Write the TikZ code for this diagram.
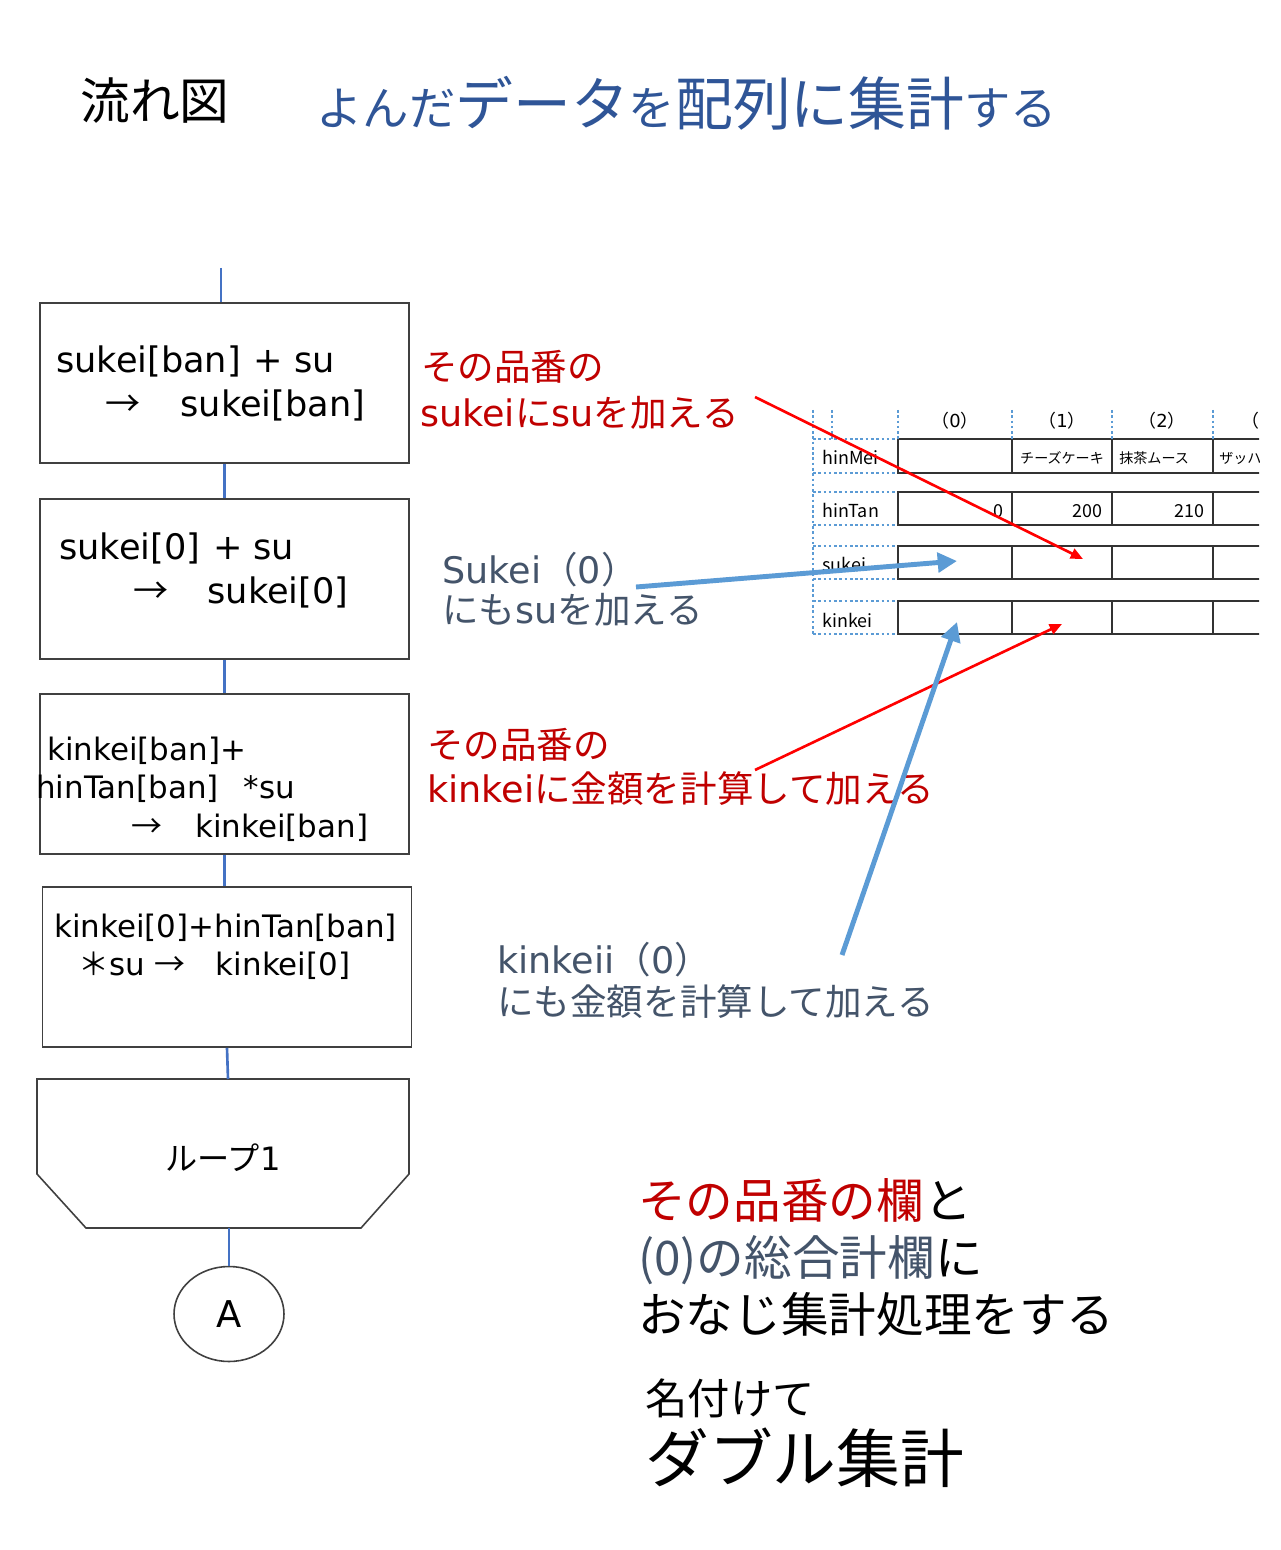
\documentclass[tikz,border=0pt]{standalone}
\usepackage{fontspec}
\setmainfont{DejaVu Sans}
\newfontfamily\cjkfont{Noto Sans CJK JP}
\usetikzlibrary{arrows.meta,shapes.geometric}
% Japanese characters switch to the CJK font by themselves
\XeTeXinterchartokenstate=1
\newXeTeXintercharclass\jpclass
\newcount\jpc
\def\setjp#1#2{\jpc=#1\relax\loop\XeTeXcharclass\jpc=\jpclass\ifnum\jpc<#2\advance\jpc by 1\repeat}
\setjp{"2190}{"2193}
\setjp{"3000}{"30FF}
\setjp{"4E00}{"9FFF}
\setjp{"FF00}{"FFEF}
\XeTeXinterchartoks 0 \jpclass = {\cjkfont}
\XeTeXinterchartoks 4095 \jpclass = {\cjkfont}
\XeTeXinterchartoks \jpclass 0 = {\rmfamily}
\XeTeXinterchartoks \jpclass 4095 = {\rmfamily}
\definecolor{titleblue}{HTML}{2F5597}
\definecolor{redtxt}{HTML}{C00000}
\definecolor{graytxt}{HTML}{44546A}
\definecolor{flowblue}{HTML}{4472C4}
\definecolor{boxgray}{HTML}{404040}
\definecolor{dotblue}{HTML}{5B9BD5}
\definecolor{arrred}{HTML}{FF0000}
\definecolor{arrblue}{HTML}{5B9BD5}
\newcommand{\bigjp}[1]{{\fontsize{32.9pt}{36pt}\selectfont #1}}
\begin{document}
\begin{tikzpicture}[x=0.02cm,y=-0.02cm]
        \tikzstyle{procbox}=[draw=boxgray,line width=0.9pt,minimum width=7.38cm,minimum height=3.2cm]
        \tikzstyle{loopline}=[draw=boxgray,line width=0.9pt]
        \tikzstyle{flowtext}=[anchor=base west,inner sep=0pt,font=\fontsize{20pt}{24pt}\selectfont]
        \tikzstyle{flowsmall}=[anchor=base west,inner sep=0pt,font=\fontsize{17.6pt}{21pt}\selectfont]
        \tikzstyle{notetext}=[anchor=base west,inner sep=0pt,font=\fontsize{20.8pt}{24pt}\selectfont]
        \tikzstyle{bigtext}=[anchor=base west,inner sep=0pt,font=\cjkfont\fontsize{27.1pt}{30pt}\selectfont]
        \tikzstyle{flowline}=[draw=flowblue,line width=1.5pt]
        \tikzstyle{tabline}=[draw=black!80,line width=0.8pt]
        \tikzstyle{tabdot}=[draw=dotblue,line width=0.8pt,dash pattern=on 1.5pt off 1.5pt]
        \tikzstyle{tabtext}=[inner sep=0pt,font=\cjkfont\fontsize{10.2pt}{12pt}\selectfont]
        \tikzstyle{tabjp}=[inner sep=0pt,font=\cjkfont\fontsize{8pt}{10pt}\selectfont]
        \tikzstyle{redarrow}=[draw=arrred,line width=1.5pt,-{Triangle[length=7pt,width=6pt]}]
        \tikzstyle{bluearrow}=[draw=arrblue,line width=2.8pt,-{Triangle[length=11pt,width=11pt]}]

        \fill[white] (0,0) rectangle (1280,1550);
        \useasboundingbox (0,0) rectangle (1280,1550);

        % title
        \node[anchor=base west,inner sep=0pt,font=\cjkfont\fontsize{28.3pt}{32pt}\selectfont] (title) at (80,120) {流れ図};
        \node[anchor=base west,inner sep=0pt,text=titleblue,font=\cjkfont\fontsize{26.4pt}{32pt}\selectfont] (subtitle) at (316,126)
          {よんだ\bigjp{データ}を\bigjp{配列に集計}する};

        % flow chart
        \coordinate (top) at (221,268);
        \node[procbox] (b1) at (224.5,383) {};
        \node[procbox] (b2) at (224.5,579) {};
        \node[procbox] (b3) at (224.5,774) {};
        \node[procbox] (b4) at (227,967) {};
        \node[flowtext] (b1a) at (56,373) {sukei[ban]\hspace{0.26cm}+\hspace{0.22cm}su};
        \node[flowtext] (b1b) at (105,417) {→\hspace{0.8cm}sukei[ban]};
        \node[flowtext] (b2a) at (59,559) {sukei[0]\hspace{0.26cm}+\hspace{0.22cm}su};
        \node[flowtext] (b2b) at (133,603) {→\hspace{0.78cm}sukei[0]};
        \node[flowsmall] (b3a) at (47,760) {kinkei[ban]+};
        \node[flowsmall] (b3b) at (36,798) {hinTan[ban]\hspace{0.5cm}*su};
        \node[flowsmall] (b3c) at (131,837) {→\hspace{0.66cm}kinkei[ban]};
        \node[flowsmall] (b4a) at (54,937) {kinkei[0]+hinTan[ban]};
        \node[flowsmall] (b4b) at (78,975) {＊su\hspace{0.2cm}→\hspace{0.6cm}kinkei[0]};

        \coordinate (lt) at (228,1079);
        \coordinate (lb) at (229,1228);
        \draw[loopline] (37,1079) -- (409,1079) -- (409,1174) -- (361,1228) -- (86,1228) -- (37,1174) -- cycle;
        \node[font=\cjkfont\fontsize{18.3pt}{22pt}\selectfont] (loop) at (223,1158) {ループ1};
        \node[loopline,ellipse,minimum width=2.2cm,minimum height=1.9cm,font=\fontsize{21pt}{24pt}\selectfont] (A) at (229,1314) {A};

        \draw[flowline] (top) -- (top |- b1.north);
        \draw[flowline] (b1.south) -- (b2.north);
        \draw[flowline] (b2.south) -- (b3.north);
        \draw[flowline] (b3.south) -- (b3.south |- b4.north);
        \draw[flowline] (b4.south) -- (lt);
        \draw[flowline] (lb) -- (A.north);

        % notes
        \node[notetext,text=redtxt] (n1a) at (421,381) {その品番の};
        \node[notetext,text=redtxt] (n1b) at (420,427) {sukeiにsuを加える};
        \node[notetext,text=graytxt] (n2a) at (442,583) {Sukei（0）};
        \node[notetext,text=graytxt] (n2b) at (442,623) {にもsuを加える};
        \node[notetext,text=redtxt] (n3a) at (427,758) {その品番の};
        \node[notetext,text=redtxt] (n3b) at (427,802) {kinkeiに金額を計算して加える};
        \node[notetext,text=graytxt] (n4a) at (497,973) {kinkeii（0）};
        \node[notetext,text=graytxt] (n4b) at (497,1015) {にも金額を計算して加える};

        % array table
        \begin{scope}
          \clip (800,400) rectangle (1259,645);
          \foreach \t/\b in {439/473,492/525,546/579,601/634}{
            \draw[tabdot] (813,\t) -- (898,\t);
            \draw[tabdot] (813,\b) -- (898,\b);
            \draw[tabline] (898,\t) rectangle (1275,\b);
            \foreach \xx in {1012,1112,1213}
              \draw[tabline] (\xx,\t) -- (\xx,\b);
          }
          \draw[tabdot] (813,410) -- (813,634);
          \foreach \xx in {832,898,1012,1112,1213}
            \draw[tabdot] (\xx,410) -- (\xx,439);
          \node[tabtext] (h0) at (955,421) {（0）};
          \node[tabtext] (h1) at (1062,421) {（1）};
          \node[tabtext] (h2) at (1162,421) {（2）};
          \node[tabtext] (h3) at (1265,421) {（3）};
          \node[tabtext,anchor=base west] (hinmei) at (822,465) {hinMei};
          \node[tabtext,anchor=base west] (hintan) at (822,518) {hinTan};
          \node[tabtext,anchor=base west] (sukei) at (822,571) {sukei};
          \node[tabtext,anchor=base west] (kinkei) at (822,627) {kinkei};
          \node[tabjp,anchor=base] (m1) at (1062,463) {チーズケーキ};
          \node[tabjp,anchor=base west] (m2) at (1119,463) {抹茶ムース};
          \node[tabjp,anchor=base west] (m3) at (1219,463) {ザッハトルテ};
          \node[tabtext,anchor=base east] (p0) at (1004,518) {0};
          \node[tabtext,anchor=base east] (p1) at (1103,518) {200};
          \node[tabtext,anchor=base east] (p2) at (1205,518) {210};
        \end{scope}

        % pointers into the table
        \coordinate (r1s) at (755,397);
        \coordinate (r1e) at (1083,559);
        \coordinate (r2s) at (755,770);
        \coordinate (r2e) at (1062,624);
        \coordinate (u1s) at (636,587);
        \coordinate (u1e) at (957,561);
        \coordinate (u2s) at (842,955);
        \coordinate (u2e) at (957,622);
        \draw[redarrow] (r1s) -- (r1e);
        \draw[redarrow] (r2s) -- (r2e);
        \draw[bluearrow] (u1s) -- (u1e);
        \draw[bluearrow] (u2s) -- (u2e);

        % summary
        \node[bigtext] (s1) at (638,1218) {{\color{redtxt}その品番の欄}と};
        \node[bigtext] (s2) at (638,1275) {{\color{graytxt}(0)の総合計欄}に};
        \node[bigtext] (s3) at (638,1332) {おなじ集計処理をする};
        \node[anchor=base west,inner sep=0pt,font=\cjkfont\fontsize{24.1pt}{28pt}\selectfont] (s4) at (645,1414) {名付けて};
        \node[anchor=base west,inner sep=0pt,font=\cjkfont\fontsize{36.3pt}{40pt}\selectfont] (s5) at (645,1482) {ダブル集計};
\end{tikzpicture}
\end{document}
